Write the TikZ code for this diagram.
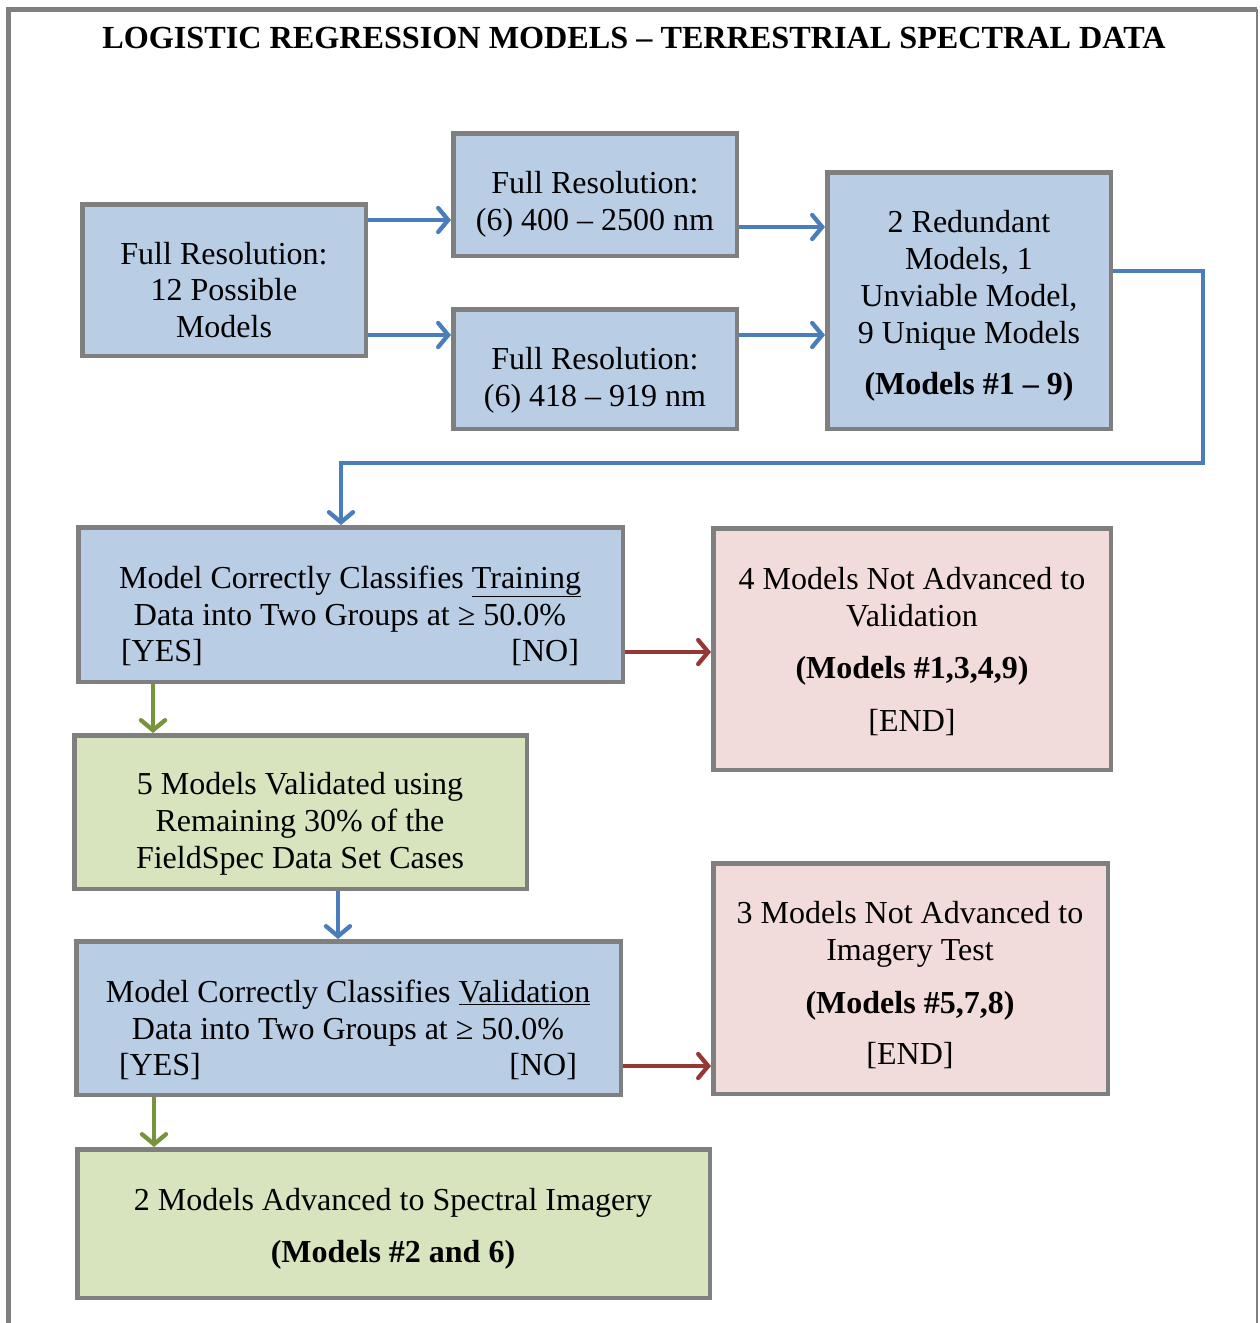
\documentclass[tikz,border=0pt]{standalone}
\usepackage{fontspec}
\setmainfont{Liberation Serif}
\usetikzlibrary{arrows.meta}

\definecolor{frame}{HTML}{7F7F7F}
\definecolor{boxblue}{HTML}{B9CDE5}
\definecolor{boxpink}{HTML}{F2DCDB}
\definecolor{boxgreen}{HTML}{D7E4BD}
\definecolor{lineblue}{HTML}{4A7EBB}
\definecolor{linered}{HTML}{953735}
\definecolor{linegreen}{HTML}{77933C}

\tikzset{
  box/.style={draw=frame, line width=4.5pt, rectangle, inner sep=0pt},
  bluebox/.style={box, fill=boxblue},
  pinkbox/.style={box, fill=boxpink},
  greenbox/.style={box, fill=boxgreen},
  label/.style={align=center, inner sep=0pt,
    font=\fontsize{32}{36.8}\selectfont},
  arr/.style={line width=4.3pt,
    -{Straight Barb[length=10pt,width=24pt,line cap=round]}},
  bluearr/.style={arr, draw=lineblue},
  redarr/.style={arr, draw=linered},
  greenarr/.style={arr, draw=linegreen},
}

\begin{document}
\begin{tikzpicture}[x=1pt,y=-1pt]
\useasboundingbox (0,0) rectangle (1259,1323);

% outer frame
\draw[frame, line width=5pt] (8.5,1330) -- (8.5,9) -- (1257,9);
\draw[frame, line width=1.5pt] (1257,9) -- (1257,1330);

% heading
\node[font=\fontsize{32.2}{36.8}\selectfont\bfseries, inner sep=0pt] (title) at (634,38)
  {LOGISTIC REGRESSION MODELS -- TERRESTRIAL SPECTRAL DATA};

% boxes
\node[bluebox, minimum width=283.5pt, minimum height=151.5pt] (a) at (224,280) {};
\node[bluebox, minimum width=283.5pt, minimum height=122.5pt] (b) at (595,194.5) {};
\node[bluebox, minimum width=283.5pt, minimum height=119.5pt] (c) at (595,369) {};
\node[bluebox, minimum width=283.5pt, minimum height=256.5pt] (d) at (969,300.5) {};
\node[bluebox, minimum width=544.5pt, minimum height=154.5pt] (e) at (350.5,604.5) {};
\node[pinkbox, minimum width=397.5pt, minimum height=241.5pt] (f) at (912,649) {};
\node[greenbox, minimum width=452.5pt, minimum height=153.5pt] (g) at (300.5,812) {};
\node[bluebox, minimum width=544.5pt, minimum height=153.5pt] (h) at (348.5,1018) {};
\node[pinkbox, minimum width=394.5pt, minimum height=230.5pt] (i) at (910.5,978.5) {};
\node[greenbox, minimum width=632.5pt, minimum height=148.5pt] (j) at (393.5,1223.5) {};

% box texts
\node[label] (a-t) at (224,290) {Full Resolution:\\12 Possible\\Models};
\node[label] (b-t) at (595,204.5) {Full Resolution:\\(6) 400 -- 2500 nm};
\node[label] (c-t) at (595,380.5) {Full Resolution:\\(6) 418 -- 919 nm};
\node[label] (d-t) at (969,306) {2 Redundant\\Models, 1\\Unviable Model,\\9 Unique Models\\[15pt]\textbf{(Models \#1 -- 9)}};
\node[label] (e-t) at (350,616) {Model Correctly Classifies \underline{Training}\\Data into Two Groups at ≥ 50.0\%\\\makebox[458pt]{[YES]\hfill[NO]}};
\node[label] (f-t) at (912,651.5) {4 Models Not Advanced to\\Validation\\[15pt]\textbf{(Models \#1,3,4,9)}\\[16pt][END]};
\node[label] (g-t) at (300,824) {5 Models Validated using\\Remaining 30\% of the\\FieldSpec Data Set Cases};
\node[label] (h-t) at (348,1030) {Model Correctly Classifies \underline{Validation}\\Data into Two Groups at ≥ 50.0\%\\\makebox[458pt]{[YES]\hfill[NO]}};
\node[label] (i-t) at (910,985) {3 Models Not Advanced to\\Imagery Test\\[16pt]\textbf{(Models \#5,7,8)}\\[14pt][END]};
\node[label] (j-t) at (393,1228.5) {2 Models Advanced to Spectral Imagery\\[15pt]\textbf{(Models \#2 and 6)}};

% connectors
\draw[bluearr] (a.east |- 0,220) -- (b.west |- 0,220);
\draw[bluearr] (a.east |- 0,335) -- (c.west |- 0,335);
\draw[bluearr] (b.east |- 0,227) -- (d.west |- 0,227);
\draw[bluearr] (c.east |- 0,335) -- (d.west |- 0,335);
\draw[bluearr, line join=miter] (d.east |- 0,271) -- (1203,271) -- (1203,463) -- (341,463) -- (e.north -| 341,0);
\draw[redarr] (e.east |- 0,652) -- (f.west |- 0,652);
\draw[greenarr] (e.south -| 153,0) -- (g.north -| 153,0);
\draw[bluearr] (g.south -| 338,0) -- (h.north -| 338,0);
\draw[redarr] (h.east |- 0,1066) -- (i.west |- 0,1066);
\draw[greenarr] (h.south -| 154,0) -- (j.north -| 154,0);
\end{tikzpicture}
\end{document}
